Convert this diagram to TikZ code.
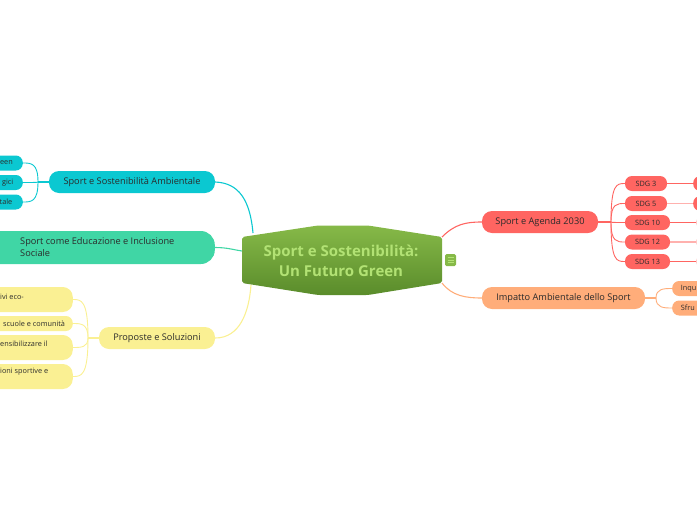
\documentclass[tikz,border=0pt]{standalone}
\usepackage{fontspec}
\setmainfont{Open Sans}
\definecolor{cyanc}{HTML}{0BC8D1}
\definecolor{mintc}{HTML}{40D6A5}
\definecolor{yelc}{HTML}{FAF093}
\definecolor{redc}{HTML}{FF6561}
\definecolor{pinkc}{HTML}{FFB1AE}
\definecolor{peachc}{HTML}{FFAD7A}
\definecolor{gtop}{HTML}{86B948}
\definecolor{gbot}{HTML}{5A8C2B}
\definecolor{ctext}{HTML}{B2E274}
\definecolor{txt}{HTML}{2B2B2B}
\begin{document}
\begin{tikzpicture}[x=1pt,y=-1pt,
  branch/.style={rounded corners=10pt, inner sep=0pt, minimum height=22pt, text=txt,
     font=\fontsize{9.2}{11}\selectfont},
  sub/.style={rounded corners=7pt, inner sep=0pt, minimum height=15pt, text=txt,
     font=\fontsize{7.3}{9}\selectfont},
  subtxt/.style={inner sep=0pt, text=txt, font=\fontsize{7.3}{9}\selectfont},
  conn/.style={line width=1.1pt}]
\useasboundingbox (0,0) rectangle (697,520);
\clip (0,0) rectangle (697,520);

% central shape
\shade[top color=gtop, bottom color=gbot, rounded corners=2pt]
  (242,237) -- (318,225.5) -- (368,225.5) -- (442,237) -- (442,283) -- (368,295) -- (318,295) -- (242,283) -- cycle;
\coordinate (cNE) at (442,237);
\coordinate (cSE) at (442,283);
\coordinate (cNW) at (253,233);
\coordinate (cW) at (242,251);
\coordinate (cSW) at (251,285);
\node[align=center, text=ctext, inner sep=0pt, font=\fontsize{15}{20}\selectfont\bfseries] (center) at (341,260.5)
  {Sport e Sostenibilità:\\Un Futuro Green};
% icon
\node[fill=gtop, rounded corners=1.5pt, minimum width=11pt, minimum height=12pt, inner sep=0pt] (icon) at (450.5,260) {};
\foreach \dy in {-2.5,0,2.5} \draw[ctext, line width=0.8pt] (447.5,260+\dy) -- (453.5,260+\dy);

% ---- right: Agenda 2030
\node[branch, fill=redc, minimum width=116pt] (agenda) at (540,222) {Sport e Agenda 2030};
\draw[conn, redc] (cNE) .. controls (455,224) and (466,222) .. (agenda.west);
\coordinate (aj) at (611,222);
\draw[conn, redc] (agenda.east) -- (aj);
\node[sub, fill=redc, minimum width=42pt] (s3) at (646,183.5) {SDG 3};
\node[sub, fill=redc, minimum width=42pt] (s5) at (646,203.5) {SDG 5};
\node[sub, fill=redc, minimum width=45pt] (s10) at (647.5,222.5) {SDG 10};
\node[sub, fill=redc, minimum width=45pt] (s12) at (647.5,242) {SDG 12};
\node[sub, fill=redc, minimum width=45pt] (s13) at (647.5,261.5) {SDG 13};
\foreach \n in {s3,s5,s10,s12,s13}
  \draw[conn, redc, line width=0.9pt] (aj) .. controls (aj |- \n.west) and ([xshift=-8pt]\n.west) .. (\n.west);
% off-canvas continuations
\node[sub, fill=redc, minimum width=30pt, anchor=west] (t3) at (693,183.5) {};
\node[sub, fill=redc, minimum width=30pt, anchor=west] (t5) at (693,203.5) {};
\node[sub, fill=redc, minimum width=30pt, anchor=west] (t10) at (696.3,222.5) {};
\node[sub, fill=redc, minimum width=30pt, anchor=west] (t12) at (696.3,242) {};
\node[sub, fill=redc, minimum width=30pt, anchor=west] (t13) at (696.3,261.5) {};
\draw[conn, redc] (s3.east) -- (t3.west);
\draw[conn, pinkc] (s5.east) -- (t5.west);
\draw[conn, redc] (s10.east) -- (t10.west);
\draw[conn, pinkc] (s12.east) -- (t12.west);
\draw[conn, redc] (s13.east) -- (t13.west);

% ---- right: Impatto
\node[branch, fill=peachc, minimum width=163pt] (impatto) at (563.5,298) {Impatto Ambientale dello Sport};
\draw[conn, peachc] (cSE) .. controls (452,296) and (466,298) .. (impatto.west);
\coordinate (ij) at (656,298);
\draw[conn, peachc] (impatto.east) -- (ij);
\node[sub, fill=peachc, minimum width=60pt, anchor=west] (inq) at (672,288.5) {};
\node[sub, fill=peachc, minimum width=60pt, anchor=west] (sfr) at (672,308) {};
\node[subtxt, anchor=east] at (696.5,288.5) {Inqu};
\node[subtxt, anchor=east] at (695,308) {Sfru};
\draw[conn, peachc, line width=0.9pt] (ij) .. controls (ij |- inq.west) and ([xshift=-8pt]inq.west) .. (inq.west);
\draw[conn, peachc, line width=0.9pt] (ij) .. controls (ij |- sfr.west) and ([xshift=-8pt]sfr.west) .. (sfr.west);

% ---- left: Ambientale
\node[branch, fill=cyanc, minimum width=166pt] (amb) at (132,182) {Sport e Sostenibilità Ambientale};
\draw[conn, cyanc] (amb.east) .. controls (239,183) and (250,200) .. (cNW);
\coordinate (bj) at (38,182);
\draw[conn, cyanc] (amb.west) -- (bj);
\node[sub, fill=cyanc, minimum width=60pt, anchor=east] (a1) at (23,163) {};
\node[sub, fill=cyanc, minimum width=60pt, anchor=east] (a2) at (23,182.5) {};
\node[sub, fill=cyanc, minimum width=60pt, anchor=east] (a3) at (23,202) {};
\node[subtxt, anchor=east] at (13,163) {een};
\node[subtxt, anchor=east] at (13.5,182.5) {gici};
\node[subtxt, anchor=east] at (12.5,202) {tale};
\foreach \n in {a1,a2,a3}
  \draw[conn, cyanc, line width=0.9pt] (bj) .. controls (bj |- \n.east) and ([xshift=8pt]\n.east) .. (\n.east);

% ---- left: Educazione
\node[branch, fill=mintc, rounded corners=14pt, minimum width=230pt, minimum height=33pt, anchor=east] (edu) at (215,247.5) {};
\node[anchor=north west, inner sep=0pt, align=left, text=txt, font=\fontsize{9.2}{12}\selectfont] (edut) at (20,237)
  {Sport come Educazione e Inclusione\\Sociale};
\draw[conn, mintc] (edu.east) .. controls (228,247.5) and (234,250) .. (cW);

% ---- left: Proposte
\node[branch, fill=yelc, minimum width=116pt] (prop) at (157,338) {Proposte e Soluzioni};
\draw[conn, yelc] (prop.east) .. controls (240,338) and (249,312) .. (cSW);
\coordinate (pj) at (88,338);
\draw[conn, yelc] (prop.west) -- (pj);
\node[sub, fill=yelc, rounded corners=10pt, minimum width=90pt, minimum height=25pt, anchor=east] (p1) at (73,299.5) {};
\node[sub, fill=yelc, minimum width=90pt, minimum height=15pt, anchor=east] (p2) at (73,323.5) {};
\node[sub, fill=yelc, rounded corners=10pt, minimum width=90pt, minimum height=25pt, anchor=east] (p3) at (73,347.5) {};
\node[sub, fill=yelc, rounded corners=10pt, minimum width=90pt, minimum height=25pt, anchor=east] (p4) at (73,376.5) {};
\node[subtxt, anchor=west] at (0,297) {ivi eco-};
\node[subtxt, anchor=west] at (3,324) {scuole e comunità};
\node[subtxt, anchor=west] at (0,344) {ensibilizzare il};
\node[subtxt, anchor=west] at (0,372) {ioni sportive e};
\foreach \n in {p1,p2,p3,p4}
  \draw[conn, yelc, line width=0.9pt] (pj) .. controls (pj |- \n.east) and ([xshift=8pt]\n.east) .. (\n.east);
\end{tikzpicture}
\end{document}
